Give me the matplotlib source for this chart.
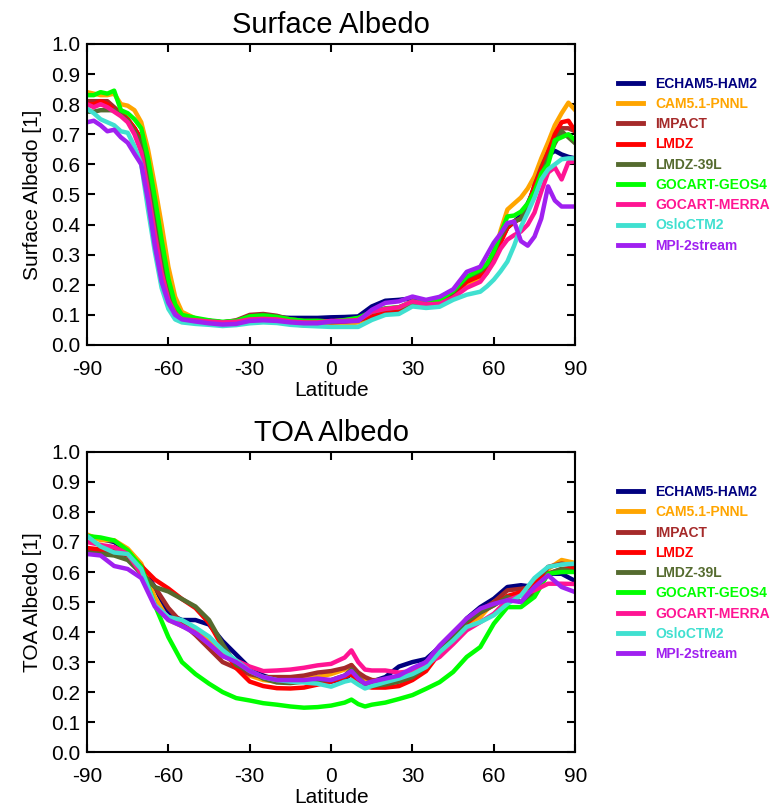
import numpy as np
import matplotlib
matplotlib.use("Agg")
import matplotlib.pyplot as plt

plt.rcParams['font.family'] = ['Liberation Sans', 'DejaVu Sans']
plt.rcParams['axes.unicode_minus'] = False

models = ['ECHAM5-HAM2', 'CAM5.1-PNNL', 'IMPACT', 'LMDZ', 'LMDZ-39L',
          'GOCART-GEOS4', 'GOCART-MERRA', 'OsloCTM2', 'MPI-2stream']
colors = ['#00007F', '#FFA500', '#A52A2A', '#FF0000', '#556B2F',
          '#00FF00', '#FF1493', '#40E0D0', '#A020F0']

# surface albedo
lat_sfc = [-90, -87.5, -85, -82.5, -80, -77.5, -75, -72.5, -70, -67.5, -65, -62.5, -60, -57.5, -55,
           -50, -45, -40, -35, -30, -25, -20, -15, -10, -5, 0, 5, 10, 15, 20, 25, 30, 35, 40, 45, 50, 55,
           57.5, 60, 62.5, 65, 67.5, 70, 72.5, 75, 77.5, 80, 82.5, 85, 87.5, 90]

sfc_echam = [0.80, 0.80, 0.80, 0.80, 0.78, 0.765, 0.745, 0.72, 0.68, 0.57, 0.43, 0.29, 0.18, 0.115, 0.09,
             0.085, 0.08, 0.075, 0.078, 0.09, 0.093, 0.092, 0.09, 0.09, 0.09, 0.092, 0.093, 0.095, 0.128, 0.147, 0.15, 0.155, 0.145, 0.15, 0.175, 0.21, 0.23,
             0.26, 0.30, 0.35, 0.39, 0.41, 0.43, 0.47, 0.52, 0.58, 0.63, 0.645, 0.633, 0.625, 0.62]
sfc_cam = [0.84, 0.835, 0.83, 0.83, 0.835, 0.80, 0.795, 0.78, 0.74, 0.65, 0.53, 0.40, 0.26, 0.16, 0.11,
           0.088, 0.078, 0.072, 0.073, 0.078, 0.08, 0.078, 0.07, 0.065, 0.066, 0.065, 0.07, 0.075, 0.095, 0.11, 0.115, 0.135, 0.13, 0.14, 0.165, 0.20, 0.215,
           0.24, 0.29, 0.38, 0.45, 0.47, 0.49, 0.52, 0.56, 0.62, 0.673, 0.73, 0.77, 0.805, 0.78]
sfc_impact = [0.81, 0.81, 0.81, 0.81, 0.79, 0.77, 0.75, 0.72, 0.68, 0.57, 0.43, 0.29, 0.18, 0.115, 0.09,
              0.085, 0.08, 0.075, 0.082, 0.10, 0.103, 0.097, 0.085, 0.08, 0.08, 0.078, 0.08, 0.082, 0.096, 0.11, 0.117, 0.135, 0.135, 0.145, 0.17, 0.215, 0.235,
              0.26, 0.30, 0.35, 0.39, 0.41, 0.42, 0.46, 0.53, 0.59, 0.64, 0.69, 0.72, 0.72, 0.71]
sfc_lmdz = [0.80, 0.80, 0.81, 0.80, 0.78, 0.77, 0.75, 0.72, 0.685, 0.58, 0.44, 0.30, 0.185, 0.115, 0.09,
            0.083, 0.078, 0.073, 0.077, 0.088, 0.09, 0.088, 0.08, 0.077, 0.077, 0.075, 0.078, 0.083, 0.10, 0.115, 0.12, 0.14, 0.135, 0.145, 0.17, 0.21, 0.23,
            0.255, 0.30, 0.34, 0.39, 0.41, 0.42, 0.46, 0.53, 0.58, 0.64, 0.70, 0.74, 0.745, 0.71]
sfc_lmdz39 = [0.775, 0.775, 0.78, 0.78, 0.78, 0.765, 0.745, 0.71, 0.67, 0.57, 0.43, 0.29, 0.18, 0.115, 0.09,
              0.085, 0.08, 0.075, 0.08, 0.095, 0.10, 0.095, 0.085, 0.08, 0.08, 0.078, 0.082, 0.088, 0.11, 0.12, 0.125, 0.14, 0.14, 0.15, 0.175, 0.225, 0.245,
              0.265, 0.31, 0.36, 0.40, 0.41, 0.42, 0.46, 0.51, 0.56, 0.62, 0.67, 0.71, 0.69, 0.67]
sfc_geos4 = [0.83, 0.83, 0.84, 0.835, 0.845, 0.78, 0.77, 0.75, 0.72, 0.62, 0.49, 0.35, 0.22, 0.135, 0.10,
             0.09, 0.082, 0.077, 0.08, 0.095, 0.098, 0.093, 0.085, 0.08, 0.08, 0.078, 0.083, 0.09, 0.11, 0.122, 0.125, 0.145, 0.14, 0.15, 0.18, 0.227, 0.25,
             0.27, 0.31, 0.37, 0.427, 0.43, 0.443, 0.47, 0.51, 0.57, 0.60, 0.68, 0.69, 0.70, 0.68]
sfc_merra = [0.80, 0.79, 0.80, 0.79, 0.775, 0.76, 0.74, 0.70, 0.64, 0.51, 0.37, 0.24, 0.15, 0.105, 0.085,
             0.082, 0.078, 0.075, 0.077, 0.085, 0.087, 0.085, 0.078, 0.075, 0.075, 0.08, 0.08, 0.083, 0.11, 0.12, 0.125, 0.145, 0.135, 0.137, 0.157, 0.19, 0.21,
             0.24, 0.275, 0.32, 0.35, 0.365, 0.377, 0.40, 0.44, 0.51, 0.573, 0.59, 0.55, 0.607, 0.61]
sfc_oslo = [0.785, 0.77, 0.75, 0.74, 0.73, 0.71, 0.705, 0.66, 0.60, 0.45, 0.31, 0.19, 0.12, 0.085, 0.075,
            0.07, 0.067, 0.063, 0.066, 0.072, 0.075, 0.073, 0.067, 0.064, 0.062, 0.06, 0.06, 0.06, 0.083, 0.10, 0.103, 0.128, 0.123, 0.127, 0.15, 0.167, 0.177,
            0.195, 0.217, 0.245, 0.277, 0.33, 0.393, 0.44, 0.49, 0.55, 0.583, 0.60, 0.617, 0.62, 0.62]
sfc_mpi = [0.74, 0.745, 0.73, 0.71, 0.715, 0.69, 0.672, 0.635, 0.60, 0.48, 0.33, 0.21, 0.14, 0.10, 0.085,
           0.078, 0.072, 0.068, 0.07, 0.08, 0.082, 0.08, 0.075, 0.072, 0.072, 0.078, 0.078, 0.08, 0.117, 0.14, 0.145, 0.161, 0.15, 0.16, 0.185, 0.243, 0.26,
           0.30, 0.34, 0.37, 0.405, 0.41, 0.345, 0.33, 0.36, 0.42, 0.527, 0.48, 0.46, 0.46, 0.46]

# TOA albedo
lat_toa = [-90, -85, -80, -75, -70, -65, -60, -55, -50, -45, -40, -35, -30, -25, -20, -15, -10, -5, 0,
           5, 7.5, 10, 12.5, 15,
           20, 25, 30, 35, 40, 45, 50, 55, 60, 65, 70, 75, 80, 85, 90]

toa_echam = [0.72, 0.71, 0.70, 0.67, 0.62, 0.55, 0.46, 0.44, 0.44, 0.425, 0.37, 0.325, 0.28, 0.255, 0.24, 0.24, 0.24, 0.235, 0.235,
             0.245, 0.26, 0.235, 0.225, 0.235,
             0.25, 0.285, 0.30, 0.31, 0.35, 0.39, 0.445, 0.483, 0.511, 0.55, 0.556, 0.55, 0.594, 0.594, 0.57]
toa_cam = [0.725, 0.706, 0.706, 0.678, 0.628, 0.517, 0.44, 0.42, 0.405, 0.378, 0.328, 0.29, 0.255, 0.24, 0.235, 0.235, 0.245, 0.25, 0.26,
           0.275, 0.29, 0.26, 0.245, 0.24,
           0.24, 0.245, 0.265, 0.30, 0.32, 0.378, 0.428, 0.45, 0.50, 0.517, 0.525, 0.561, 0.61, 0.64, 0.63]
toa_impact = [0.675, 0.67, 0.665, 0.655, 0.60, 0.55, 0.48, 0.43, 0.39, 0.345, 0.30, 0.28, 0.26, 0.25, 0.25, 0.25, 0.255, 0.265, 0.27,
              0.28, 0.29, 0.265, 0.25, 0.24,
              0.235, 0.24, 0.26, 0.29, 0.34, 0.385, 0.44, 0.472, 0.50, 0.539, 0.544, 0.55, 0.617, 0.628, 0.62]
toa_lmdz = [0.68, 0.675, 0.68, 0.665, 0.62, 0.575, 0.545, 0.51, 0.48, 0.43, 0.35, 0.28, 0.235, 0.22, 0.213, 0.212, 0.215, 0.225, 0.235,
            0.25, 0.26, 0.235, 0.22, 0.215,
            0.215, 0.22, 0.24, 0.27, 0.33, 0.38, 0.43, 0.465, 0.49, 0.52, 0.533, 0.561, 0.594, 0.61, 0.61]
toa_lmdz39 = [0.665, 0.66, 0.655, 0.64, 0.595, 0.55, 0.535, 0.51, 0.485, 0.44, 0.36, 0.29, 0.27, 0.245, 0.232, 0.23, 0.235, 0.24, 0.24,
              0.255, 0.275, 0.25, 0.225, 0.22,
              0.225, 0.235, 0.25, 0.285, 0.34, 0.39, 0.435, 0.465, 0.489, 0.517, 0.50, 0.528, 0.594, 0.61, 0.60]
toa_geos4 = [0.72, 0.715, 0.705, 0.672, 0.617, 0.49, 0.383, 0.30, 0.26, 0.228, 0.20, 0.18, 0.172, 0.163, 0.158, 0.152, 0.148, 0.15, 0.155,
             0.165, 0.175, 0.16, 0.152, 0.158,
             0.165, 0.177, 0.19, 0.211, 0.233, 0.267, 0.317, 0.35, 0.428, 0.483, 0.483, 0.517, 0.594, 0.60, 0.60]
toa_merra = [0.70, 0.69, 0.683, 0.66, 0.595, 0.49, 0.45, 0.42, 0.40, 0.36, 0.32, 0.305, 0.285, 0.27, 0.272, 0.275, 0.281, 0.289, 0.294,
             0.315, 0.339, 0.30, 0.275, 0.272,
             0.272, 0.265, 0.27, 0.294, 0.317, 0.36, 0.406, 0.433, 0.461, 0.506, 0.522, 0.539, 0.561, 0.561, 0.56]
toa_oslo = [0.72, 0.685, 0.665, 0.66, 0.61, 0.49, 0.45, 0.44, 0.415, 0.385, 0.34, 0.305, 0.27, 0.25, 0.24, 0.235, 0.232, 0.228, 0.218,
            0.235, 0.24, 0.225, 0.212, 0.22,
            0.233, 0.245, 0.26, 0.283, 0.333, 0.372, 0.417, 0.433, 0.456, 0.494, 0.522, 0.58, 0.617, 0.625, 0.628]
toa_mpi = [0.66, 0.655, 0.62, 0.61, 0.58, 0.485, 0.44, 0.42, 0.395, 0.36, 0.32, 0.30, 0.27, 0.25, 0.24, 0.24, 0.24, 0.245, 0.24,
           0.255, 0.27, 0.245, 0.228, 0.235,
           0.245, 0.255, 0.28, 0.30, 0.355, 0.40, 0.445, 0.478, 0.494, 0.506, 0.50, 0.55, 0.589, 0.55, 0.533]

sfc = [sfc_echam, sfc_cam, sfc_impact, sfc_lmdz, sfc_lmdz39, sfc_geos4, sfc_merra, sfc_oslo, sfc_mpi]
toa = [toa_echam, toa_cam, toa_impact, toa_lmdz, toa_lmdz39, toa_geos4, toa_merra, toa_oslo, toa_mpi]

fig = plt.figure(figsize=(7.7, 8.07), dpi=100)
ax1 = fig.add_axes([0.113, 0.5725, 0.634, 0.373])
ax2 = fig.add_axes([0.113, 0.068, 0.634, 0.372])

panels = [(ax1, lat_sfc, sfc, 'Surface Albedo', 'Surface Albedo [1]', 0.905),
          (ax2, lat_toa, toa, 'TOA Albedo', 'TOA Albedo [1]', 0.399)]

for ax, lat, data, title, ylab, leg_y in panels:
    for vals, c, name in zip(data, colors, models):
        ax.plot(lat, vals, color=c, lw=3.2, label=name)
    ax.set_xlim(-90, 90)
    ax.set_ylim(0, 1.0)
    ax.set_xticks(np.arange(-90, 91, 30))
    ax.set_yticks(np.arange(0, 1.01, 0.1))
    ax.set_yticklabels(['%.1f' % v for v in np.arange(0, 1.01, 0.1)])
    ax.tick_params(direction='in', top=True, right=True, length=6, width=1.5,
                   labelsize=15)
    ax.tick_params(axis='x', pad=11)
    ax.tick_params(axis='y', pad=5)
    for s in ax.spines.values():
        s.set_linewidth(1.5)
    ax.set_title(title, fontsize=21, pad=8)
    ax.set_xlabel('Latitude', fontsize=15, labelpad=1)
    ax.set_ylabel(ylab, fontsize=15, labelpad=6)
    leg = fig.legend(*ax.get_legend_handles_labels(), loc='upper left',
                     bbox_to_anchor=(0.803, leg_y), frameon=False,
                     handlelength=1.75, handletextpad=0.9, labelspacing=0.45,
                     prop={'weight': 'bold', 'size': 10}, labelcolor='linecolor',
                     borderaxespad=0, borderpad=0)
    for h in leg.get_lines():
        h.set_linewidth(3.5)

fig.savefig('out.png', dpi=100)
